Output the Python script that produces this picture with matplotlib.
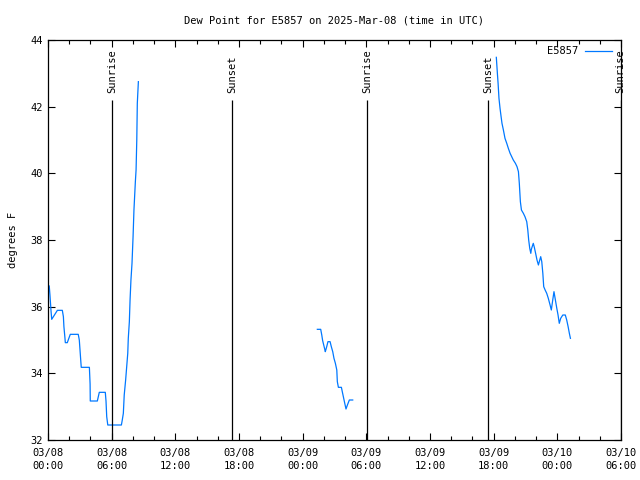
import numpy as np
import matplotlib
matplotlib.use("Agg")
import matplotlib.pyplot as plt
import matplotlib.dates as mdates
from datetime import datetime, timedelta

base = datetime(2025, 3, 8, 0, 0)

# minutes since 2025-03-08 00:00 UTC, dew point (F)
seg1_min = [7, 11, 17, 21, 53, 81, 87, 90, 96, 98, 109, 126, 171, 177, 181, 185, 188,
            234, 238, 239, 279, 290, 324, 328, 332, 338, 415, 420, 426, 431, 439, 445,
            451, 454, 460, 464, 469, 475, 481, 486, 494, 498, 502, 505, 511]
seg1_val = [36.62, 36.35, 35.88, 35.62, 35.89, 35.89, 35.7, 35.4, 35.05, 34.92, 34.92,
            35.17, 35.17, 35.0, 34.7, 34.4, 34.18, 34.18, 33.68, 33.17, 33.17, 33.43,
            33.43, 33.17, 32.7, 32.45, 32.45, 32.6, 32.8, 33.35, 33.8, 34.2, 34.6, 35.05,
            35.55, 36.2, 36.8, 37.3, 38.1, 38.9, 39.75, 40.1, 41.0, 42.1, 42.75]

seg2_min = [1523, 1542, 1548, 1553, 1559, 1565, 1568, 1576, 1583, 1595, 1602, 1610,
            1617, 1625, 1633, 1636, 1642, 1659, 1664, 1670, 1678, 1685, 1693, 1704, 1723]
seg2_val = [35.32, 35.32, 35.15, 34.98, 34.85, 34.72, 34.65, 34.8, 34.95, 34.95, 34.8,
            34.65, 34.45, 34.3, 34.1, 33.75, 33.58, 33.58, 33.45, 33.3, 33.1, 32.93,
            33.05, 33.2, 33.2]

seg3_min = [2535, 2541, 2545, 2550, 2556, 2562, 2567, 2575, 2584, 2594, 2603, 2613,
            2622, 2631, 2643, 2652, 2660, 2665, 2671, 2677, 2688, 2697, 2707, 2713,
            2718, 2724, 2730, 2733, 2739, 2744, 2750, 2758, 2765, 2773, 2778, 2786,
            2792, 2798, 2803, 2811, 2820, 2829, 2839, 2846, 2854, 2861, 2869, 2877,
            2884, 2891, 2899, 2911, 2925, 2933, 2941, 2948, 2954]
seg3_val = [43.48, 43.0, 42.7, 42.25, 41.95, 41.7, 41.5, 41.3, 41.05, 40.9, 40.75, 40.6,
            40.5, 40.4, 40.3, 40.2, 40.05, 39.7, 39.15, 38.9, 38.8, 38.7, 38.55, 38.3,
            38.0, 37.75, 37.6, 37.72, 37.82, 37.9, 37.78, 37.58, 37.4, 37.25, 37.35,
            37.5, 37.35, 37.0, 36.6, 36.5, 36.4, 36.25, 36.05, 35.9, 36.2, 36.45, 36.2,
            35.95, 35.75, 35.5, 35.65, 35.75, 35.75, 35.6, 35.4, 35.2, 35.05]

sun_min = [362, 1040, 1804, 2488, 3238]
sun_lbl = ["Sunrise", "Sunset", "Sunrise", "Sunset", "Sunrise"]

color = "#0078ff"
font = "DejaVu Sans Mono"
fs = 7.5

def to_t(mins):
    return [base + timedelta(minutes=m) for m in mins]

fig = plt.figure(figsize=(6.4, 4.8), dpi=100)
ax = fig.add_axes([48/640, 40/480, (621-48)/640, 400/480])

for mins, vals, lab in [(seg1_min, seg1_val, "E5857"), (seg2_min, seg2_val, None),
                        (seg3_min, seg3_val, None)]:
    ax.plot(to_t(mins), vals, color=color, lw=0.9, label=lab)

for m, l in zip(sun_min, sun_lbl):
    t = base + timedelta(minutes=m)
    ax.vlines(t, 32, 42.2, color="black", lw=0.9)
    ax.text(t, 42.4, l, rotation=90, ha="center", va="bottom", fontsize=fs,
            family=font)

ax.set_xlim(base, base + timedelta(hours=54))
ax.set_ylim(32, 44)
ax.set_yticks(np.arange(32, 45, 2))
ax.xaxis.set_major_locator(mdates.HourLocator(byhour=[0, 6, 12, 18]))
ax.xaxis.set_minor_locator(mdates.HourLocator(byhour=range(0, 24, 2)))
ax.xaxis.set_major_formatter(mdates.DateFormatter("%m/%d\n%H:%M"))
ax.tick_params(axis="both", which="both", direction="in", top=True, right=True,
               labelsize=fs, width=0.8)
ax.tick_params(which="major", length=5)
ax.tick_params(which="minor", length=3)
ax.tick_params(axis="x", pad=6)
for lab in ax.get_xticklabels() + ax.get_yticklabels():
    lab.set_family(font)
    lab.set_linespacing(1.35)
for s in ax.spines.values():
    s.set_linewidth(0.9)

ax.set_ylabel("degrees F", fontsize=fs, family=font, labelpad=9)
ax.set_title("Dew Point for E5857 on 2025-Mar-08 (time in UTC)", fontsize=fs,
             family=font, pad=12)

leg = ax.legend(loc="upper right", frameon=False, prop={"family": font, "size": fs},
                markerfirst=False, handlelength=2.6, handletextpad=0.6,
                borderaxespad=0.2, bbox_to_anchor=(0.995, 1.0))

fig.savefig("out.png", dpi=100)
